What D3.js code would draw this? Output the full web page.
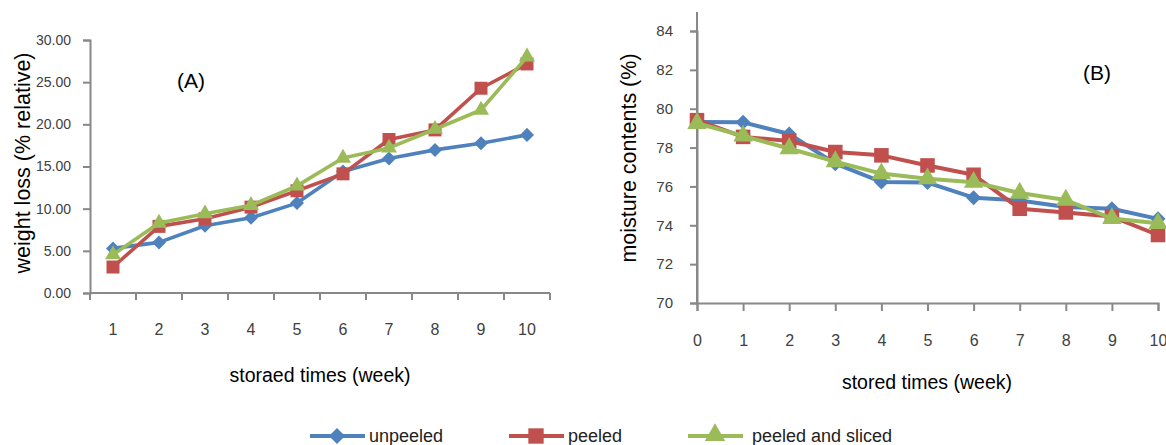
<!DOCTYPE html>
<html>
<head>
<meta charset="utf-8">
<script src="https://cdn.jsdelivr.net/npm/d3@7"></script>
<style>
  body { margin: 0; background: #fff; }
  svg { font-family: "Liberation Sans", Arial, sans-serif; }
  .tick text { fill: #404040; }
</style>
</head>
<body>
<div id="graphicContainer"></div>
<script>

// chart A: weight loss
const weeksA = [1, 2, 3, 4, 5, 6, 7, 8, 9, 10]
const lossUnpeeled = [5.29, 6.0, 7.97, 8.92, 10.66, 14.4, 15.95, 16.97, 17.76, 18.75]
const lossPeeled = [3.08, 7.9, 8.8, 10.18, 12.12, 14.13, 18.2, 19.34, 24.28, 27.16]
const lossSliced = [4.54, 8.3, 9.4, 10.4, 12.7, 16.0, 17.2, 19.42, 21.7, 28.0]
const ticksA = [0, 5, 10, 15, 20, 25, 30]

// chart B: moisture contents
const weeksB = [0, 1, 2, 3, 4, 5, 6, 7, 8, 9, 10]
const moistUnpeeled = [79.32, 79.3, 78.7, 77.17, 76.23, 76.2, 75.42, 75.28, 74.94, 74.85, 74.33]
const moistPeeled = [79.41, 78.55, 78.34, 77.77, 77.6, 77.08, 76.6, 74.85, 74.66, 74.45, 73.5]
const moistSliced = [79.25, 78.6, 77.95, 77.28, 76.66, 76.4, 76.22, 75.66, 75.3, 74.35, 74.1]
const ticksB = [70, 72, 74, 76, 78, 80, 82, 84]

const seriesNames = ["unpeeled", "peeled", "peeled and sliced"]
const seriesColors = ["#4F81BD", "#C0504D", "#9BBB59"]
const axisColor = "#888888"

// marker sizes (d3 symbol area) per series: diamond, square, triangle
const markerA = [125, 215, 185]
const markerB = [145, 270, 270]
const markerLegend = [165, 300, 300]

const markerPath = (i, size) => {
  if (i == 0) return d3.symbol().type(d3.symbolDiamond2).size(size)()
  if (i == 1) return d3.symbol().type(d3.symbolSquare2).size(size)()
  return d3.symbol().type(d3.symbolTriangle2).size(size)()
}

const svg = d3.select("#graphicContainer")
  .append("svg")
  .attr("width", 1166)
  .attr("height", 445)

function drawLines(g, xs, series, x, y, sizes, lw) {
  series.forEach((vals, i) => {
    const pts = vals.map((v, j) => [x(xs[j]), y(v)])
    g.append("path")
      .attr("d", d3.line()(pts))
      .attr("fill", "none")
      .attr("stroke", seriesColors[i])
      .attr("stroke-width", lw)
      .attr("stroke-linejoin", "round")
    g.selectAll(".m" + i)
      .data(pts)
      .enter()
      .append("path")
      .attr("transform", d => `translate(${d[0]},${d[1]})`)
      .attr("d", markerPath(i, sizes[i]))
      .attr("fill", seriesColors[i])
  })
}

function styleAxis(g) {
  g.selectAll("path.domain").attr("stroke", axisColor).attr("stroke-width", 2)
  g.selectAll(".tick line").attr("stroke", axisColor).attr("stroke-width", 2)
}

// ---------- chart A ----------
const xA = d3.scaleBand().domain(weeksA).range([90, 550])
const yA = d3.scaleLinear().domain([0, 30]).range([293, 40])
const gA = svg.append("g")

gA.append("g")
  .attr("transform", "translate(90,0)")
  .call(d3.axisLeft(yA).tickValues(ticksA).tickSizeOuter(0).tickSize(7).tickPadding(12).tickFormat(d3.format(".2f")))
  .call(styleAxis)
  .selectAll("text").attr("font-size", 14)

const axA = gA.append("g")
  .attr("transform", "translate(0,293)")
axA.append("line")
  .attr("x1", 90).attr("x2", 550)
  .attr("stroke", axisColor).attr("stroke-width", 2)
axA.selectAll(".tk")
  .data(d3.range(weeksA.length + 1))
  .enter()
  .append("line")
  .attr("x1", d => 90 + d * xA.step()).attr("x2", d => 90 + d * xA.step())
  .attr("y1", 0).attr("y2", 7)
  .attr("stroke", axisColor).attr("stroke-width", 2)
axA.selectAll(".lb")
  .data(weeksA)
  .enter()
  .append("text")
  .attr("x", d => xA(d) + xA.bandwidth() / 2)
  .attr("y", 42)
  .attr("text-anchor", "middle")
  .attr("font-size", 16)
  .attr("fill", "#404040")
  .text(d => d)

drawLines(gA, weeksA, [lossUnpeeled, lossPeeled, lossSliced], d => xA(d) + xA.bandwidth() / 2, yA, markerA, 3.6)

gA.append("text")
  .attr("transform", "translate(30,163) rotate(-90)")
  .attr("text-anchor", "middle")
  .attr("font-size", 21.5)
  .attr("fill", "#000")
  .text("weight loss (% relative)")

gA.append("text")
  .attr("x", 320).attr("y", 382)
  .attr("text-anchor", "middle")
  .attr("font-size", 19.5)
  .text("storaed times (week)")

gA.append("text")
  .attr("x", 191).attr("y", 88)
  .attr("text-anchor", "middle")
  .attr("font-size", 21)
  .text("(A)")

// ---------- chart B ----------
const xB = d3.scaleLinear().domain([0, 10]).range([697, 1158])
const yB = d3.scaleLinear().domain([70, 84]).range([303, 31])
const gB = svg.append("g")

gB.append("line")
  .attr("x1", 697).attr("x2", 697).attr("y1", 12).attr("y2", 303)
  .attr("stroke", axisColor).attr("stroke-width", 2)
gB.append("g")
  .attr("transform", "translate(697,0)")
  .call(d3.axisLeft(yB).tickValues(ticksB).tickSizeOuter(0).tickSize(7).tickPadding(17))
  .call(styleAxis)
  .selectAll("text").attr("font-size", 15)

gB.append("g")
  .attr("transform", "translate(0,303)")
  .call(d3.axisBottom(xB).tickValues(weeksB).tickSizeOuter(0).tickSize(8).tickPadding(24))
  .call(styleAxis)
  .selectAll("text").attr("font-size", 16)

drawLines(gB, weeksB, [moistUnpeeled, moistPeeled, moistSliced], xB, yB, markerB, 4)

gB.append("text")
  .attr("transform", "translate(636,158) rotate(-90)")
  .attr("text-anchor", "middle")
  .attr("font-size", 21.5)
  .text("moisture contents (%)")

gB.append("text")
  .attr("x", 927).attr("y", 389)
  .attr("text-anchor", "middle")
  .attr("font-size", 19.5)
  .text("stored times (week)")

gB.append("text")
  .attr("x", 1097).attr("y", 80)
  .attr("text-anchor", "middle")
  .attr("font-size", 21)
  .text("(B)")

// ---------- legend ----------
const legendX = [310, 509, 688]
const legend = svg.append("g").attr("transform", "translate(0,436)")
seriesNames.forEach((name, i) => {
  const lx = legendX[i]
  const lineLen = 55
  legend.append("line")
    .attr("x1", lx).attr("x2", lx + lineLen)
    .attr("stroke", seriesColors[i]).attr("stroke-width", 4.2)
  legend.append("path")
    .attr("transform", `translate(${lx + 27},${i == 2 ? -1 : 0})`)
    .attr("d", markerPath(i, markerLegend[i]))
    .attr("fill", seriesColors[i])
  legend.append("text")
    .attr("x", lx + lineLen + (i == 2 ? 9 : 4))
    .attr("y", 6)
    .attr("font-size", 18)
    .attr("fill", "#222")
    .text(name)
})

</script>
</body>
</html>
